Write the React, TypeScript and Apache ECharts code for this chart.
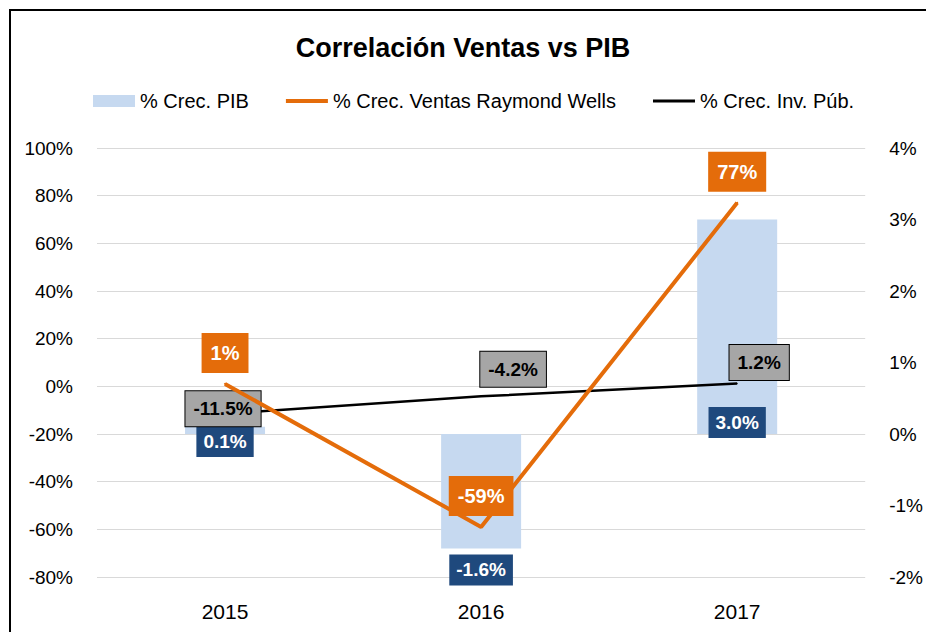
import React, { useEffect, useRef } from 'react';
import * as echarts from 'echarts';

const categories = ['2015', '2016', '2017'];
const pibGrowth = [0.1, -1.6, 3.0];
const salesGrowth = [1, -59, 77];
const invGrowth = [-11.5, -4.2, 1.2];
const leftAxisRange = [-80, 100, 20];
const rightAxisRange = [-2, 4, 1];
const seriesNames = ['% Crec. PIB', '% Crec. Ventas Raymond Wells', '% Crec. Inv. Púb.'];

const FONT = '"Liberation Sans", Arial, sans-serif';
const ORANGE = '#E46C0A';
const BAR = '#C6D9F0';
const NAVY = '#1F497D';
const GRAY = '#A6A6A6';

export default function App() {
  const ref = useRef<HTMLDivElement>(null);
  useEffect(() => {
    if (!ref.current) return;
    const chart = echarts.init(ref.current, null, { renderer: 'svg' });

    const barLabelPlace = [
      { position: 'bottom', distance: 0, offset: [0, -8] },
      { position: 'bottom', distance: 6 },
      { position: 'insideBottom', distance: -4 },
    ];
    const invLabelOffset = [
      [-2, -5],
      [32, -27],
      [22, -21],
    ];

    const option = {
      animation: false,
      backgroundColor: '#fff',
      textStyle: { fontFamily: FONT },
      title: {
        text: 'Correlación Ventas vs PIB',
        left: 'center',
        top: 29,
        textStyle: { fontFamily: FONT, fontWeight: 'bold', fontSize: 27, color: '#000' },
      },
      legend: {
        left: 93,
        top: 91,
        padding: 0,
        itemWidth: 42,
        itemHeight: 12,
        itemGap: 37,
        textStyle: { fontFamily: FONT, fontSize: 20, color: '#000' },
        data: [
          { name: seriesNames[0], icon: 'rect' },
          { name: seriesNames[1], icon: 'path://M0,0h40v4h-40z' },
          { name: seriesNames[2], icon: 'path://M0,0h40v3h-40z' },
        ],
      },
      graphic: [
        {
          type: 'rect',
          silent: true,
          z: -10,
          shape: { x: 10, y: 10, width: 1200, height: 1200 },
          style: { fill: 'none', stroke: '#000', lineWidth: 2 },
        },
      ],
      grid: { left: 97, right: 56, top: 148, bottom: 55 },
      xAxis: {
        type: 'category',
        data: categories,
        axisLine: { show: false },
        axisTick: { show: false },
        axisLabel: { fontFamily: FONT, fontSize: 21, color: '#000', margin: 24 },
      },
      yAxis: [
        {
          type: 'value',
          min: leftAxisRange[0],
          max: leftAxisRange[1],
          interval: leftAxisRange[2],
          axisLine: { show: false },
          axisTick: { show: false },
          splitLine: { lineStyle: { color: '#D9D9D9', width: 1 } },
          axisLabel: {
            fontFamily: FONT,
            fontSize: 19,
            color: '#000',
            margin: 24,
            formatter: (v: number) => `${v}%`,
          },
        },
        {
          type: 'value',
          min: rightAxisRange[0],
          max: rightAxisRange[1],
          interval: rightAxisRange[2],
          axisLine: { show: false },
          axisTick: { show: false },
          splitLine: { show: false },
          axisLabel: {
            fontFamily: FONT,
            fontSize: 19,
            color: '#000',
            margin: 24,
            formatter: (v: number) => `${v}%`,
          },
        },
      ],
      series: [
        {
          name: seriesNames[0],
          type: 'bar',
          yAxisIndex: 1,
          barWidth: 80,
          itemStyle: { color: BAR },
          z: 1,
          data: pibGrowth.map((v, i) => ({
            value: v,
            label: {
              show: true,
              ...barLabelPlace[i],
              formatter: () => `${v.toFixed(1)}%`,
              backgroundColor: NAVY,
              color: '#fff',
              fontFamily: FONT,
              fontWeight: 'bold',
              fontSize: 19,
              padding: [6, 7],
            },
          })),
        },
        {
          name: seriesNames[2],
          type: 'line',
          yAxisIndex: 0,
          color: '#000',
          symbol: 'circle',
          symbolSize: 1,
          lineStyle: { color: '#000', width: 2.5 },
          itemStyle: { color: '#000' },
          z: 3,
          data: invGrowth.map((v, i) => ({
            value: v,
            label: {
              show: true,
              position: 'inside',
              offset: invLabelOffset[i],
              formatter: () => `${v.toFixed(1)}%`,
              backgroundColor: GRAY,
              borderColor: '#000',
              borderWidth: 1,
              color: '#000',
              fontFamily: FONT,
              fontWeight: 'bold',
              fontSize: 19,
              padding: [8, 8],
            },
          })),
        },
        {
          name: seriesNames[1],
          type: 'line',
          yAxisIndex: 0,
          color: ORANGE,
          symbol: 'circle',
          symbolSize: 2,
          lineStyle: { color: ORANGE, width: 4 },
          itemStyle: { color: ORANGE },
          z: 4,
          data: salesGrowth.map((v) => ({
            value: v,
            label: {
              show: true,
              position: 'top',
              distance: 10,
              formatter: () => `${v.toFixed(0)}%`,
              backgroundColor: ORANGE,
              color: '#fff',
              fontFamily: FONT,
              fontWeight: 'bold',
              fontSize: 20,
              padding: [10, 9],
            },
          })),
        },
      ],
    };

    chart.setOption(option as any);
    return () => chart.dispose();
  }, []);

  return (
    <div
      ref={ref}
      style={{ position: 'absolute', left: 0, top: 0, width: 926, height: 632 }}
    />
  );
}
